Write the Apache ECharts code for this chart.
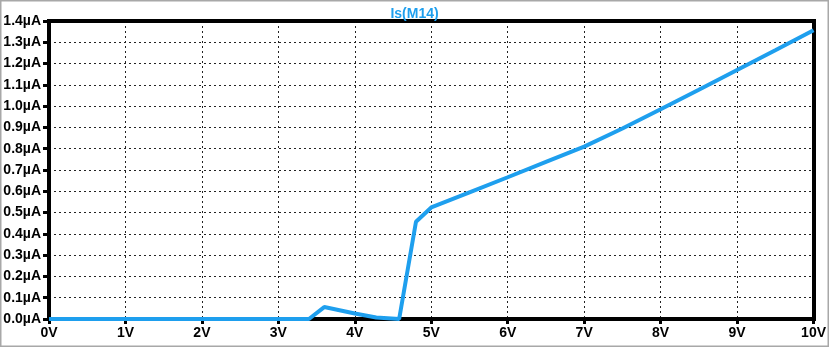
<!DOCTYPE html>
<html>
<head>
<meta charset="utf-8">
<script src="https://cdn.jsdelivr.net/npm/echarts@6/dist/echarts.min.js"></script>
<style>html,body{margin:0;padding:0;background:#fff;}#c{width:829px;height:347px;}</style>
</head>
<body>
<div id="c"></div>
<script>
const titleText = 'Is(M14)';
const voltages = [0, 3.4, 3.6, 4.0, 4.28, 4.58, 4.8, 5.0, 5.5, 6.0, 6.5, 7.0, 7.5, 8.0, 8.5, 9.0, 9.5, 10.0];
const currents = [0, 0, 0.056, 0.026, 0.007, 0, 0.457, 0.524, 0.595, 0.666, 0.738, 0.81, 0.895, 0.985, 1.077, 1.17, 1.263, 1.357];
const xTickSuffix = 'V';
const yTickSuffix = 'µA';

const chart = echarts.init(document.getElementById('c'), null, {renderer: 'canvas'});
const font = 'Liberation Sans, Arial, sans-serif';
const frameLine = {show: true, onZero: false, lineStyle: {color: '#000', width: 4, cap: 'square'}};
chart.setOption({
  animation: false,
  backgroundColor: '#fff',
  title: {
    text: titleText, left: 'center', top: 2,
    textStyle: {color: '#1E9FEE', fontSize: 14, fontWeight: 'bold', fontFamily: font}
  },
  graphic: [{
    type: 'rect', shape: {x: 0.5, y: 0.5, width: 828, height: 346},
    style: {fill: 'none', stroke: '#A8A8A8', lineWidth: 2}, silent: true, z: 100
  }],
  grid: {left: 49, right: 14, top: 21, bottom: 28},
  xAxis: [{
    type: 'value', min: 0, max: 10, interval: 1, position: 'bottom',
    axisLine: frameLine,
    axisTick: {show: true, inside: false, length: 5, lineStyle: {color: '#000', width: 3}},
    axisLabel: {margin: 7, color: '#000', fontSize: 14, fontWeight: 'bold', fontFamily: font,
      formatter: v => Math.round(v) + xTickSuffix},
    splitLine: {show: true, lineStyle: {color: '#222', width: 1, type: [2, 3]}}
  }, {
    type: 'value', min: 0, max: 10, interval: 1, position: 'top',
    axisLine: frameLine, axisTick: {show: false}, axisLabel: {show: false}, splitLine: {show: false}
  }],
  yAxis: [{
    type: 'value', min: 0, max: 1.4, interval: 0.1, position: 'left',
    axisLine: frameLine,
    axisTick: {show: true, inside: false, length: 6, lineStyle: {color: '#000', width: 3}},
    axisLabel: {margin: 8, color: '#000', fontSize: 14, fontWeight: 'bold', fontFamily: font,
      formatter: v => v.toFixed(1) + yTickSuffix},
    splitLine: {show: true, lineStyle: {color: '#222', width: 1, type: [2, 3]}}
  }, {
    type: 'value', min: 0, max: 1.4, interval: 0.1, position: 'right',
    axisLine: frameLine, axisTick: {show: false}, axisLabel: {show: false}, splitLine: {show: false}
  }],
  series: [{
    type: 'line', name: titleText,
    data: voltages.map((v, i) => [v, currents[i]]),
    showSymbol: false, clip: false,
    lineStyle: {color: '#1E9FEE', width: 4},
    z: 5
  }]
});
</script>
</body>
</html>
